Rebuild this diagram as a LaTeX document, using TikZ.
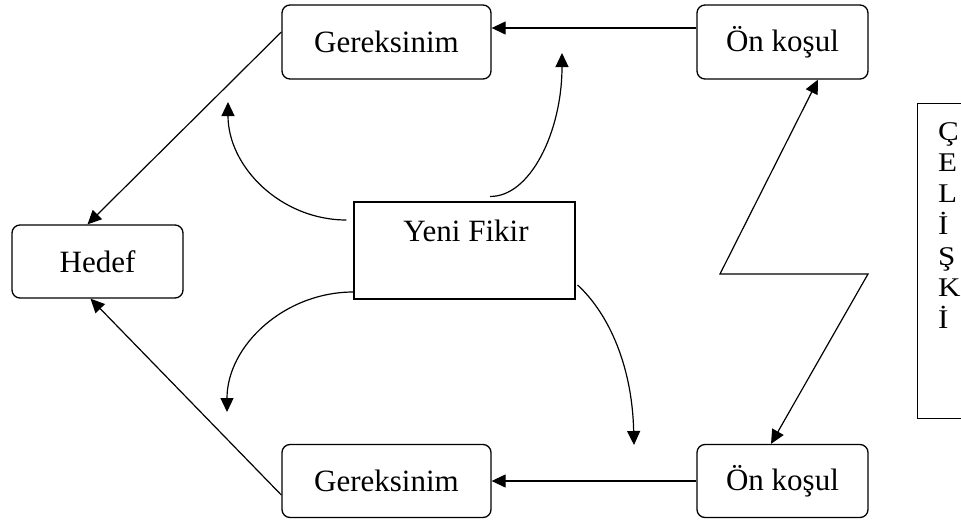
\documentclass[tikz,border=0pt]{standalone}
\usepackage{fontspec}
\setmainfont{Liberation Serif}
\usetikzlibrary{arrows.meta}
\begin{document}
\begin{tikzpicture}[x=1pt,y=-1pt,
  every node/.style={font=\fontsize{31}{37}\selectfont, inner sep=0pt},
  roundbox/.style={draw, line width=1.3pt, rounded corners=8pt},
  plainbox/.style={draw, line width=1.1pt},
  conn/.style={line width=1.2pt, -{Triangle[length=14pt,width=13pt]}},
  dconn/.style={line width=1.2pt, {Triangle[length=14pt,width=13pt]}-{Triangle[length=14pt,width=13pt]}}]
\useasboundingbox (0,0) rectangle (961,525);
\clip (0,0) rectangle (961,525);

% boxes
\node[roundbox, minimum width=209pt, minimum height=74pt] (g1) at (386.5,42) {Gereksinim};
\node[roundbox, minimum width=171pt, minimum height=74pt] (o1) at (782.5,42) {Ön koşul};
\node[roundbox, minimum width=171pt, minimum height=73pt] (hedef) at (97.5,261.5) {Hedef};
\node[roundbox, minimum width=209pt, minimum height=73pt] (g2) at (386.5,481) {Gereksinim};
\node[roundbox, minimum width=171pt, minimum height=73pt] (o2) at (782.5,481) {Ön koşul};
\node[plainbox, minimum width=221pt, minimum height=97pt] (yf) at (464.5,250.5) {};
\node (yftext) at (466,231) {Yeni Fikir};

% contradiction box on the right edge
\node[draw, line width=1.3pt, minimum width=90pt, minimum height=315pt, anchor=north west] (cel) at (917,103) {};
\node[font=\fontsize{27}{31}\selectfont, anchor=north west] (celtext) at (938,119)
  {\scalebox{1.15}[1]{\begin{tabular}{@{}l@{}}Ç\\E\\L\\İ\\Ş\\K\\İ\end{tabular}}};

% straight connectors
\draw[conn] ([yshift=10pt]g1.west) -- ([xshift=-10pt]hedef.north);
\draw[conn] ([yshift=-14pt]g2.west) -- ([xshift=-7pt]hedef.south);
\draw[conn] ([yshift=14pt]o1.west) -- ([yshift=14pt]g1.east);
\draw[conn] (o2.west) -- (g2.east);

% zigzag between the two preconditions
\coordinate (z1) at (720,274);
\coordinate (z2) at (868,274);
\draw[dconn] ([xshift=35.5pt]o1.south) -- (z1) -- (z2) -- ([xshift=-11.5pt]o2.north);

% curved arrows leaving the new idea
\coordinate (a1) at (228,102);
\coordinate (a2) at (562,53);
\coordinate (a3) at (227,412);
\coordinate (a4) at (634,445);
\draw[conn] ([xshift=-7pt,yshift=30.5pt]yf.west) .. controls (281,220) and (228,167) .. (a1);
\draw[conn] ([xshift=25.5pt,yshift=5pt]yf.north) .. controls (530,197) and (562,132) .. (a2);
\draw[conn] ([yshift=-41.5pt]yf.west) .. controls (284,292) and (227,346) .. (a3);
\draw[conn] ([xshift=2pt,yshift=-34.5pt]yf.east) .. controls (605,310) and (632,360) .. (a4);
\end{tikzpicture}
\end{document}
